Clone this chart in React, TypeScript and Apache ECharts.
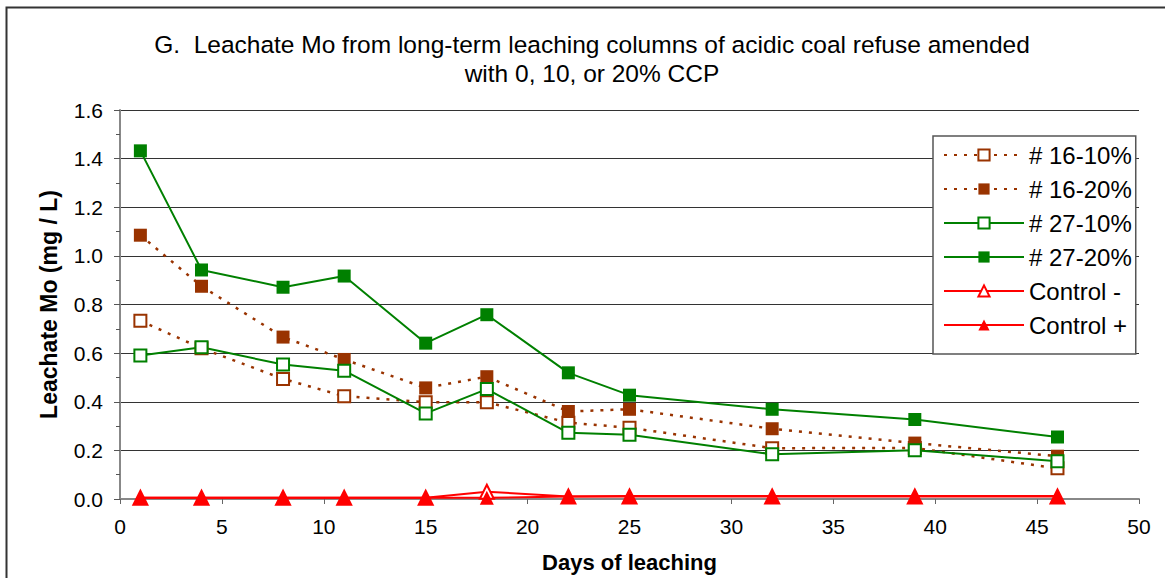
import React, { useEffect, useRef } from "react";
import * as echarts from "echarts";

const days = [1, 4, 8, 11, 15, 18, 22, 25, 32, 39, 46];
const s16_10 = [0.733, 0.62, 0.494, 0.423, 0.398, 0.398, 0.314, 0.293, 0.209, 0.21, 0.126];
const s16_20 = [1.085, 0.875, 0.666, 0.574, 0.457, 0.503, 0.36, 0.369, 0.289, 0.23, 0.176];
const s27_10 = [0.59, 0.624, 0.553, 0.528, 0.352, 0.452, 0.272, 0.264, 0.184, 0.201, 0.155];
const s27_20 = [1.432, 0.942, 0.871, 0.917, 0.641, 0.758, 0.519, 0.427, 0.369, 0.327, 0.255];
const ctrlMinus = [0.005, 0.005, 0.005, 0.005, 0.005, 0.03, 0.01, 0.01, 0.01, 0.01, 0.01];
const ctrlPlus = [0.005, 0.005, 0.005, 0.005, 0.005, 0.005, 0.01, 0.012, 0.012, 0.012, 0.012];

const titleLines = [
  "G.  Leachate Mo from long-term leaching columns of acidic coal refuse amended",
  "with 0, 10, or 20% CCP",
];

const FONT = "'Liberation Sans', Arial, sans-serif";
const BROWN = "#993300";
const GREEN = "#008000";
const RED = "#FF0000";

function pairs(vals: number[]) {
  return days.map((d, i) => [d, vals[i]]);
}

export default function App() {
  const ref = useRef<HTMLDivElement>(null);
  useEffect(() => {
    if (!ref.current) return;
    const chart = echarts.init(ref.current, undefined, { renderer: "svg" });
    const dotted = [3, 7];
    const mk = (
      name: string,
      vals: number[],
      color: string,
      symbol: string,
      open: boolean,
      dashed: boolean,
      size: number
    ) => ({
      name,
      type: "line",
      data: pairs(vals),
      symbol,
      symbolSize: size,
      showAllSymbol: true,
      lineStyle: {
        color,
        width: dashed ? 2.5 : 2,
        type: dashed ? dotted : "solid",
      },
      itemStyle: open
        ? { color: "#ffffff", borderColor: color, borderWidth: 2 }
        : { color, borderColor: color, borderWidth: 0 },
      emphasis: { disabled: true },
    });
    chart.setOption({
      animation: false,
      backgroundColor: "#ffffff",
      textStyle: { fontFamily: FONT },
      graphic: [
        {
          type: "rect",
          shape: { x: 6.5, y: 7.5, width: 1300, height: 700 },
          style: { fill: "none", stroke: "#333", lineWidth: 2 },
          silent: true,
          z: -10,
        },
        {
          type: "text",
          x: 592,
          y: 44,
          style: {
            text: titleLines[0],
            fontFamily: FONT,
            fontSize: 24.5,
            fill: "#000",
            textAlign: "center",
            textVerticalAlign: "middle",
          },
        },
        {
          type: "text",
          x: 592,
          y: 73,
          style: {
            text: titleLines[1],
            fontFamily: FONT,
            fontSize: 24.5,
            fill: "#000",
            textAlign: "center",
            textVerticalAlign: "middle",
          },
        },
      ],
      grid: { left: 120, right: 26, top: 110, bottom: 77, containLabel: false },
      legend: {
        orient: "vertical",
        left: 933,
        top: 136,
        padding: [7, 4, 17, 10],
        itemWidth: 80,
        itemHeight: 14,
        itemGap: 10,
        backgroundColor: "#ffffff",
        borderColor: "#555",
        borderWidth: 1.5,
        borderRadius: 0,
        textStyle: { fontFamily: FONT, fontSize: 24, color: "#000", lineHeight: 22 },
        data: ["# 16-10%", "# 16-20%", "# 27-10%", "# 27-20%", "Control -", "Control +"],
      },
      xAxis: {
        type: "value",
        min: 0,
        max: 50,
        interval: 5,
        name: "Days of leaching",
        nameLocation: "middle",
        nameGap: 52,
        nameTextStyle: { fontFamily: FONT, fontSize: 22, fontWeight: "bold", color: "#000" },
        axisLine: { show: true, lineStyle: { color: "#888", width: 2 } },
        axisTick: { show: true, length: 5, lineStyle: { color: "#666" } },
        axisLabel: { fontFamily: FONT, fontSize: 21, color: "#000", margin: 17 },
        splitLine: { show: false },
      },
      yAxis: {
        type: "value",
        min: 0,
        max: 1.6,
        interval: 0.2,
        name: "Leachate Mo (mg / L)",
        nameLocation: "middle",
        nameGap: 60,
        nameTextStyle: { fontFamily: FONT, fontSize: 23, fontWeight: "bold", color: "#000" },
        axisLine: { show: true, lineStyle: { color: "#888", width: 2 } },
        axisTick: { show: true, length: 6, lineStyle: { color: "#555" } },
        minorTick: { show: true, splitNumber: 2, length: 4, lineStyle: { color: "#555" } },
        axisLabel: {
          fontFamily: FONT,
          fontSize: 21,
          color: "#000",
          margin: 17,
          formatter: (v: number) => v.toFixed(1),
        },
        splitLine: { show: true, lineStyle: { color: "#333", width: 1 } },
      },
      series: [
        mk("# 16-10%", s16_10, BROWN, "rect", true, true, 12),
        mk("# 16-20%", s16_20, BROWN, "rect", false, true, 13),
        mk("# 27-10%", s27_10, GREEN, "rect", true, false, 12),
        mk("# 27-20%", s27_20, GREEN, "rect", false, false, 13),
        mk("Control -", ctrlMinus, RED, "triangle", true, false, 14),
        mk("Control +", ctrlPlus, RED, "triangle", false, false, 14),
      ],
    });
    return () => chart.dispose();
  }, []);
  return (
    <div
      ref={ref}
      style={{ position: "fixed", left: 0, top: 0, width: 1165, height: 578 }}
    />
  );
}
